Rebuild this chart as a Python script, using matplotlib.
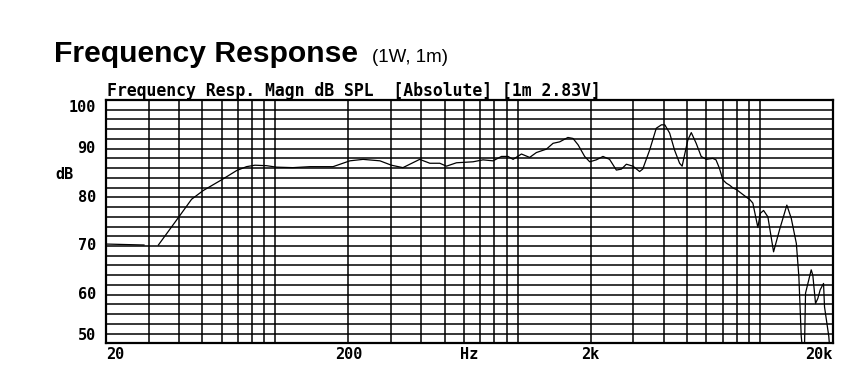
import numpy as np
import matplotlib
matplotlib.use('Agg')
import matplotlib.pyplot as plt
import matplotlib.transforms as mtransforms

# Frequency response (Hz, dB SPL); NaN marks the gap in the trace
freq = [20, 28.7, np.nan,
        32.9, 40, 45.1, 50.4, 60, 69.2, 76, 82.3, 92, 101, 118, 139, 173,
        203, 230, 270, 301, 336, 394, 434, 477, 508, 559, 654, 719, 791,
        857, 912, 957, 1036, 1120, 1194, 1313, 1399, 1490, 1611, 1691, 1774,
        1889, 1982, 2110, 2248, 2394, 2553, 2679, 2808, 2989, 3184, 3280,
        3502, 3731, 3918, 4045, 4236, 4438, 4656, 4770, 4880, 5037, 5203,
        5450, 5716, 6000, 6380, 6580, 6795, 7022, 7260, 7487, 7740, 7990,
        8380, 8910, 9050, 9340, 9795, 10020, 10340, 10770, 11370, 12030,
        12900, 13450, 14120, 14460, 14790, 15016, 15200, 15406, 16260, 16510,
        16940, 17310, 17710, 18280, 18450, 19220, 19650, 20000]
spl = [70.4, 70.2, np.nan,
       70.2, 76.0, 79.6, 81.4, 83.6, 85.5, 86.3, 86.6, 86.5, 86.2, 86.1, 86.3, 86.3,
       87.5, 87.8, 87.5, 86.6, 86.1, 87.8, 87.0, 87.0, 86.4, 87.1, 87.3, 87.7, 87.5,
       88.4, 88.4, 87.8, 88.9, 88.2, 89.2, 89.9, 91.1, 91.4, 92.3, 92.1, 90.8,
       88.4, 87.3, 87.7, 88.4, 87.8, 85.6, 85.8, 86.8, 86.4, 85.3, 85.8,
       89.7, 94.2, 94.9, 94.9, 93.2, 89.7, 87.0, 86.4, 88.7, 91.8, 93.3,
       91.1, 88.4, 87.8, 88.0, 87.7, 86.0, 83.6, 82.9, 82.5, 81.9, 81.6,
       80.8, 79.8, 79.6, 78.8, 73.8, 76.7, 77.3, 76.0, 68.8, 73.3,
       78.4, 75.7, 70.5, 63.7, 51.4, 48.0, 45.0, 60.3, 65.1, 64.0,
       58.2, 59.2, 61.0, 62.3, 57.5, 51.4, 45.0, 51.5]

y_ticks = [100, 90, 80, 70, 60, 50]
x_ticks = [20, 200, 632, 2000, 20000]
x_labels = ['20', '200', 'Hz', '2k', '20k']

fig = plt.figure(figsize=(8.6, 3.79), dpi=100)
ax = fig.add_axes([106/860, 1 - 343.3/379, 727/860, 243.3/379])

ax.semilogx(freq, spl, color='black', lw=0.9)
ax.set_xlim(20, 20000)
ax.set_ylim(50, 100)

# grid: every 2 dB, log lines 2..9 per decade
grid_x = [m * 10**d for d in (1, 2, 3) for m in range(2, 11)]
ax.set_xticks([g for g in grid_x if 20 < g < 20000])
ax.set_xticks([], minor=True)
ax.set_yticks(np.arange(52, 100, 2))
ax.set_xticklabels([])
ax.set_yticklabels([])
ax.tick_params(length=0)
ax.grid(True, color='black', lw=1.1)
for s in ax.spines.values():
    s.set_linewidth(1.6)

mono = dict(family='DejaVu Sans Mono', weight='bold', size=11)

ty = mtransforms.blended_transform_factory(ax.transAxes, ax.transData)
for v in y_ticks:
    va = 'center'
    if v == 100:
        va = 'top'
    elif v == 50:
        va = 'bottom'
    ax.text(-0.014, v, str(v), transform=ty, ha='right', va=va, **mono)

tx = mtransforms.blended_transform_factory(ax.transData, ax.transAxes)
for v, lab in zip(x_ticks, x_labels):
    ha = 'center'
    if v == 20:
        ha = 'left'
    elif v == 20000:
        ha = 'right'
    ax.text(v, -0.015, lab, transform=tx, ha=ha, va='top', **mono)

fig.text(55/860, 1 - 175/379, 'dB', ha='left', va='center', **mono)

fig.text(107/860, 1 - 96/379, 'Frequency Resp. Magn dB SPL  [Absolute] [1m 2.83V]',
         ha='left', va='baseline', family='DejaVu Sans Mono', weight='bold', size=11.9)

fig.text(54/860, 1 - 62/379, 'Frequency Response', ha='left', va='baseline',
         family='Liberation Sans', weight='bold', size=21.7)
fig.text(372/860, 1 - 62/379, '(1W, 1m)', ha='left', va='baseline',
         family='Liberation Sans', size=13.5)

fig.savefig('out.png', dpi=100)
